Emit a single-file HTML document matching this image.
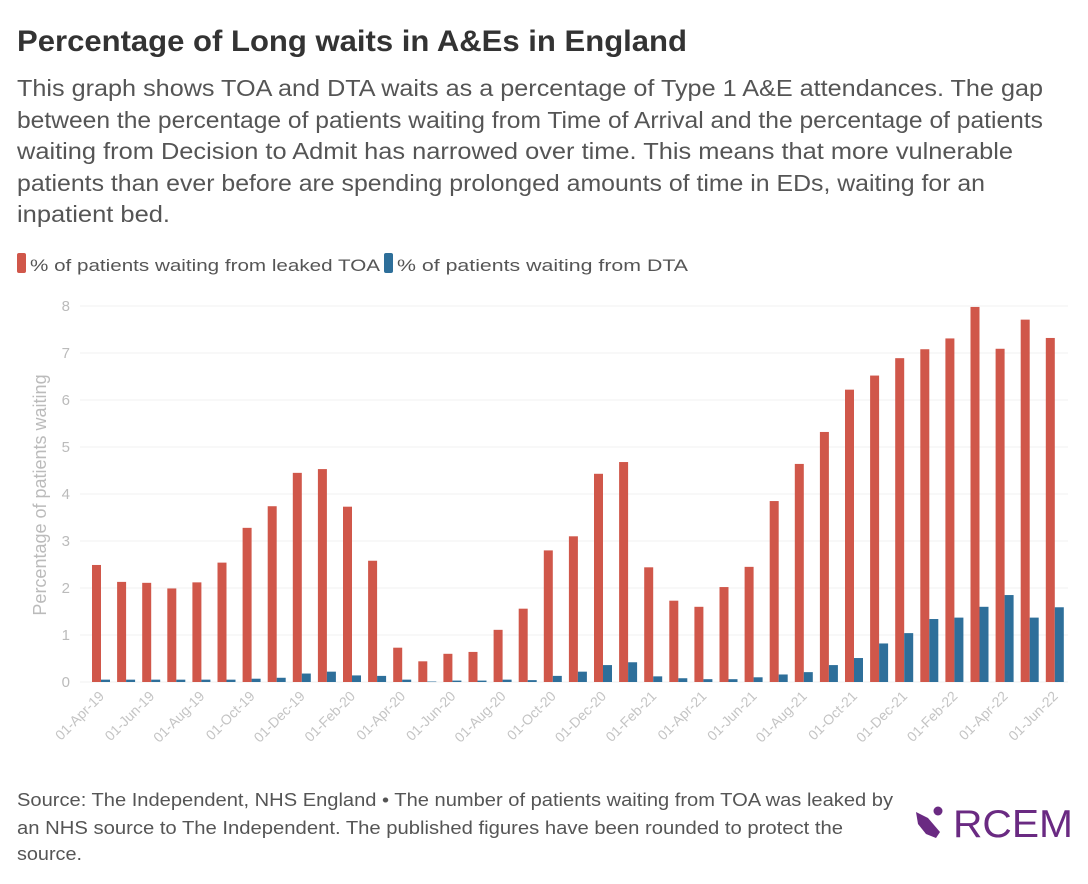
<!DOCTYPE html>
<html><head><meta charset="utf-8">
<style>
html,body{margin:0;padding:0;background:#fff;}
svg{display:block;font-family:"Liberation Sans",sans-serif;}
</style></head>
<body>
<svg id="chart" width="1088" height="884" viewBox="0 0 1088 884" xmlns="http://www.w3.org/2000/svg">
<text x="17" y="51" font-size="30" font-weight="bold" fill="#333" textLength="670" lengthAdjust="spacingAndGlyphs">Percentage of Long waits in A&amp;Es in England</text>
<g font-size="23" fill="#555">
<text x="17" y="96" textLength="1026" lengthAdjust="spacingAndGlyphs">This graph shows TOA and DTA waits as a percentage of Type 1 A&amp;E attendances. The gap</text>
<text x="17" y="128" textLength="1026" lengthAdjust="spacingAndGlyphs">between the percentage of patients waiting from Time of Arrival and the percentage of patients</text>
<text x="17" y="159" textLength="996" lengthAdjust="spacingAndGlyphs">waiting from Decision to Admit has narrowed over time. This means that more vulnerable</text>
<text x="17" y="191" textLength="968" lengthAdjust="spacingAndGlyphs">patients than ever before are spending prolonged amounts of time in EDs, waiting for an</text>
<text x="17" y="222" textLength="153" lengthAdjust="spacingAndGlyphs">inpatient bed.</text>
</g>
<g font-size="17" fill="#555">
<rect x="17" y="253" width="9" height="20" rx="2" fill="#d0574a"/>
<text x="30" y="271" textLength="350" lengthAdjust="spacingAndGlyphs">% of patients waiting from leaked TOA</text>
<rect x="384" y="253" width="9" height="20" rx="2" fill="#2e6f9a"/>
<text x="397" y="271" textLength="291" lengthAdjust="spacingAndGlyphs">% of patients waiting from DTA</text>
</g>
<text transform="translate(46,495) rotate(-90)" text-anchor="middle" font-size="18" fill="#bbb">Percentage of patients waiting</text>
<g id="grid"></g>
<g id="bars"></g>
<g id="xlabels"></g>
<g font-size="18" fill="#555">
<text x="17" y="806" textLength="876" lengthAdjust="spacingAndGlyphs">Source: The Independent, NHS England • The number of patients waiting from TOA was leaked by</text>
<text x="17" y="834" textLength="826" lengthAdjust="spacingAndGlyphs">an NHS source to The Independent. The published figures have been rounded to protect the</text>
<text x="17" y="860" textLength="65" lengthAdjust="spacingAndGlyphs">source.</text>
</g>
<g>
<path d="M916 812 L928 818 L940 832 L936 838 L926 834 L918 824 Z" fill="#6a2a82"/>
<circle cx="938" cy="811" r="4.5" fill="#6a2a82"/>
<text x="953" y="837" font-size="39" fill="#6a2a82" textLength="120" lengthAdjust="spacingAndGlyphs">RCEM</text>
</g>
</svg>
<script>
const months = ["Apr-19","May-19","Jun-19","Jul-19","Aug-19","Sep-19","Oct-19","Nov-19","Dec-19","Jan-20","Feb-20","Mar-20","Apr-20","May-20","Jun-20","Jul-20","Aug-20","Sep-20","Oct-20","Nov-20","Dec-20","Jan-21","Feb-21","Mar-21","Apr-21","May-21","Jun-21","Jul-21","Aug-21","Sep-21","Oct-21","Nov-21","Dec-21","Jan-22","Feb-22","Mar-22","Apr-22","May-22","Jun-22"];
const toaValues = [2.49,2.13,2.11,1.99,2.12,2.54,3.28,3.74,4.45,4.53,3.73,2.58,0.73,0.44,0.60,0.64,1.11,1.56,2.80,3.10,4.43,4.68,2.44,1.73,1.60,2.02,2.45,3.85,4.64,5.32,6.22,6.52,6.89,7.08,7.31,7.98,7.09,7.71,7.32];
const dtaValues = [0.05,0.05,0.05,0.05,0.05,0.05,0.07,0.09,0.18,0.22,0.14,0.13,0.05,0.01,0.03,0.03,0.05,0.04,0.13,0.22,0.36,0.42,0.12,0.08,0.06,0.06,0.10,0.16,0.21,0.36,0.51,0.82,1.04,1.34,1.37,1.60,1.85,1.37,1.59];
const yTicks = [0,1,2,3,4,5,6,7,8];

const NS="http://www.w3.org/2000/svg";
const plotL=80, plotR=1068, y0=682, pxPerUnit=47, x0=101, step=25.1, barW=9;
const y = v => y0 - v*pxPerUnit;
const xc = i => x0 + i*step;
function mk(tag, attrs, parent){const e=document.createElementNS(NS,tag);for(const k in attrs)e.setAttribute(k,attrs[k]);parent.appendChild(e);return e;}
const grid=document.getElementById('grid'), bars=document.getElementById('bars'), xl=document.getElementById('xlabels');
yTicks.forEach(t=>{
  const l=mk('line',{x1:plotL,x2:plotR,y1:y(t),y2:y(t),stroke:'#f0f0f0','stroke-width':1},grid);
  
  
  const tx=mk('text',{x:70,y:y(t)+5,'text-anchor':'end','font-size':15,fill:'#bbb'},grid);
  tx.textContent=t;
  
  
});
months.forEach((m,i)=>{
  const r=mk('rect',{x:xc(i)-barW,y:y(toaValues[i]),width:barW,height:toaValues[i]*pxPerUnit,fill:'#d0574a'},bars);
  
  
  const b=mk('rect',{x:xc(i),y:y(dtaValues[i]),width:barW,height:Math.max(dtaValues[i]*pxPerUnit,0.5),fill:'#2e6f9a'},bars);
  
  
  if(i%2===0){
    const tx=mk('text',{transform:`translate(${xc(i)+4},${y0+15}) rotate(-45)`,'text-anchor':'end','font-size':14,fill:'#c4c4c4'},xl);
    tx.textContent='01-'+m;
    
    
  }
});
</script>
</body></html>
